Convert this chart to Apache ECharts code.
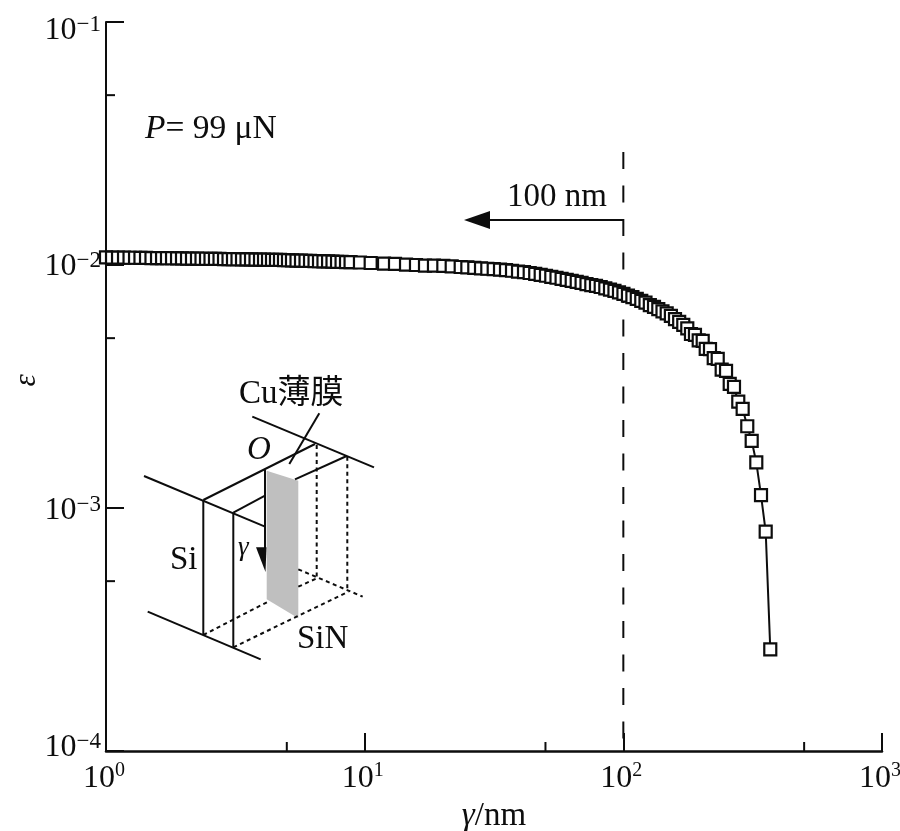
<!DOCTYPE html>
<html><head><meta charset="utf-8">
<style>html,body{margin:0;padding:0;background:#fff}#c{width:900px;height:831px}</style>
<script src="https://cdn.jsdelivr.net/npm/echarts@6/dist/echarts.min.js"></script>
</head><body><div id="c"></div>
<script>
const gamma = [
1.00,1.055,1.113,1.174,1.233,1.295,1.359,1.428,1.499,1.575,1.647,1.721,1.800,1.882,1.967,2.057,2.150,2.248,2.340,2.436,2.535,2.638,2.747,2.859,2.976,3.097,3.224,3.356,3.493,3.636,3.784,3.939,4.082,4.230,4.383,4.541,4.706,
4.876,5.053,5.236,5.451,5.674,5.906,6.148,6.40,6.66,6.93,7.22,7.51,7.82,8.14,8.47,8.82,
9.59,10.55,11.88,13.10,14.45,15.79,17.11,18.53,20.14,21.70,
23.51,24.94,26.53,28.17,29.79,31.54,33.36,
35.19,37.12,39.16,41.30,43.45,45.64,47.92,50.23,52.66,55.16,57.72,60.41,63.15,66.03,68.96,72.04,75.19,78.40,81.75,85.17,88.8,92.4,96.2,100.1,104.2,108.4,112.7,117.3,121.8,126.6,131.4,136.5,141.7,147.1,152.7,
158.4,164.4,170.5,176.7,182.6,189.2,195.6,202.7,208.2,216.3,223.6,231.7,240.0,249.5,257.8,267.8,278.2,289.3,301.4,313.5,326.6,340.6,355.1,369.9];
const epsilon = [
.01074,.01073,.01073,.01072,.01071,.01071,.01070,.01069,.01068,.01068,.01067,.01066,.01066,.01065,.01064,.01063,.01063,.01062,.01061,.01061,.01060,.01059,.01059,.01058,.01057,.01056,.01056,.01055,.01054,.01054,.01053,.01052,.01052,.01051,.01050,.01049,.01049,
.01047,.01046,.01045,.01043,.01042,.01041,.01039,.01038,.01036,.01035,.01034,.01032,.01031,.01030,.01028,.01027,
.01024,.01019,.01014,.01010,.01004,.01000,.00995,.00994,.00991,.00987,
.00981,.00977,.00973,.00969,.00965,.00962,.00958,
.00953,.00947,.00940,.00934,.00927,.00919,.00911,.00903,.00894,.00886,.00877,.00869,.00861,.00853,.00844,.00835,.00827,.00820,.00812,.00802,.00792,.00782,.00771,.00760,.00748,.00737,.00725,.00712,.00700,.00684,.00672,.00658,.00645,.00632,.00618,
.00599,.00583,.00567,.00549,.00520,.00516,.00490,.00487,.00452,.00451,.00414,.00411,.00371,.00367,.00324,.00315,.00274,.00256,.00217,.00189,.00154,.00113,.00080,.000262];
const minorXTicks = [5,50,500];
const minorYTicks = [0.05,0.005,0.0005];
const refLine = [[100,0.0292],[100,0.0001]];
const xExponents = {1:'0',10:'1',100:'2',1000:'3'};
const yExponents = {0.1:'1',0.01:'2',0.001:'3',0.0001:'4'};

const INK = '#0d0d0d', SERIF = '"Liberation Serif","Noto Sans CJK SC",serif';
const base = {fontFamily:SERIF,fontSize:32,color:INK,lineHeight:34,verticalAlign:'bottom'};
const sup = {fontFamily:SERIF,fontSize:23,color:INK,lineHeight:22,verticalAlign:'top'};
const xSup = {fontFamily:SERIF,fontSize:20,color:INK,lineHeight:22,verticalAlign:'top',padding:[0,4,0,0]};
// vertical nudge of each y label, built as an empty line before or after the text
const yShift = {'1':16,'2':2,'3':4,'4':-8};
const yRich = {b:base,s:sup};
Object.keys(yShift).forEach(k=>{yRich['g'+k]={fontSize:1,lineHeight:Math.abs(yShift[k])};});
function yLabel(k){
  const t='{b|10}{s|−'+k+'}', g='{g'+k+'| }';
  return yShift[k]>=0 ? g+'\n'+t : t+'\n'+g;
}
function seg(p,solid){return {type:'polyline',silent:true,z:20,shape:{points:p},
  style:{stroke:INK,lineWidth:2,fill:null,lineDash:solid?null:[4,3.5]}};}
function txt(x,y,text,size,extra){return {type:'text',silent:true,z:21,x:x,y:y,
  style:Object.assign({text:text,fontFamily:SERIF,fontSize:size,fill:INK,verticalAlign:'middle'},extra||{})};}
const tickStyle={color:INK,width:2};
const tickSeries=(data,fn)=>({type:'custom',data:data,clip:false,silent:true,z:6,renderItem:(p,api)=>{
  const c=api.coord([api.value(0),api.value(1)]);
  return {type:'line',shape:fn(c),style:{stroke:INK,lineWidth:2}};}});

const chart = echarts.init(document.getElementById('c'),null,{renderer:'canvas'});
chart.setOption({
  animation:false,backgroundColor:'#fff',
  grid:{left:106,top:22,width:776,height:729,containLabel:false,outerBoundsMode:'none'},
  xAxis:{type:'log',logBase:10,min:1,max:1000,z:5,
    axisLine:{show:true,lineStyle:{color:INK,width:2.5},onZero:false},
    axisTick:{show:true,inside:true,length:18,lineStyle:tickStyle,alignWithLabel:true},
    minorTick:{show:false},splitLine:{show:false},
    axisLabel:{show:true,margin:10,hideOverlap:false,showMinLabel:true,showMaxLabel:true,
      formatter:v=>'{b|10}{s|'+xExponents[v]+'}',rich:{b:base,s:xSup}},
    name:'{i|γ}{r|/nm}',nameLocation:'middle',nameGap:49,nameMoveOverlap:false,
    nameTextStyle:{rich:{i:{fontFamily:SERIF,fontStyle:'italic',fontSize:33,color:INK},r:{fontFamily:SERIF,fontSize:33,color:INK}}}},
  yAxis:{type:'log',logBase:10,min:0.0001,max:0.1,z:5,
    axisLine:{show:true,lineStyle:tickStyle,onZero:false},
    axisTick:{show:true,inside:true,length:18,lineStyle:tickStyle},
    minorTick:{show:false},splitLine:{show:false},
    axisLabel:{show:true,margin:5,hideOverlap:false,showMinLabel:true,showMaxLabel:true,
      formatter:v=>yLabel(yExponents[+v.toPrecision(1)]),rich:yRich},
    name:'ε',nameLocation:'middle',nameGap:64,nameRotate:90,nameMoveOverlap:false,
    nameTextStyle:{fontFamily:SERIF,fontStyle:'italic',fontSize:31,color:INK,padding:[0,0,0,12]}},
  series:[
    {type:'line',data:refLine,symbol:'none',z:1,clip:false,silent:true,
      lineStyle:{color:INK,width:2,type:[17,16.5]}},
    {type:'line',data:gamma.map((g,i)=>[g,epsilon[i]]),clip:false,silent:true,z:3,
      symbol:'rect',symbolSize:12,showSymbol:true,showAllSymbol:true,
      lineStyle:{color:INK,width:2},itemStyle:{color:'#fff',borderColor:INK,borderWidth:2.2}},
    tickSeries(minorXTicks.map(v=>[v,0.0001]),c=>({x1:c[0],y1:c[1],x2:c[0],y2:c[1]-9})),
    tickSeries(minorYTicks.map(v=>[1,v]),c=>({x1:c[0],y1:c[1],x2:c[0]+9,y2:c[1]}))
  ],
  graphic:{elements:[
    txt(145,129,'',33,{text:'{i|P}{r|= 99 μN}',rich:{i:{fontFamily:SERIF,fontStyle:'italic',fontSize:33.5,fill:INK},r:{fontFamily:SERIF,fontSize:33.5,fill:INK}}}),
    txt(507,197,'100 nm',33),
    seg([[623,220],[490,220]],true),
    {type:'polygon',silent:true,z:20,shape:{points:[[464,220],[490,211],[490,229]]},style:{fill:INK}},
    {type:'polygon',silent:true,z:19,shape:{points:[[266.7,470.7],[298.3,480.7],[298.3,618.3],[266.7,599.3]]},style:{fill:'#bfbfbf'}},
    seg([[252.3,416.7],[374,467.3]],true),
    seg([[144,476],[265,526.7]],true),
    seg([[203.3,500],[315,444]],true),
    seg([[233.3,512.7],[265,495.7]],true),
    seg([[295,479.3],[346.7,456]],true),
    seg([[265,470],[265,548]],true),
    {type:'polygon',silent:true,z:20,shape:{points:[[256,547.3],[266.5,547.3],[265.5,572]]},style:{fill:INK}},
    seg([[203.3,500],[203.3,635]],true),
    seg([[233.3,512.7],[233.3,647.3]],true),
    seg([[147.7,611.7],[260.7,659.3]],true),
    seg([[319.3,413.3],[289.3,464]],true),
    seg([[316.7,445],[316.7,578.3]]),
    seg([[347.3,456.7],[347.3,591.7]]),
    seg([[203.3,635],[268,601.7]]),
    seg([[233.3,647.3],[348.3,591.7]]),
    seg([[298.3,569.3],[362.7,596.7]]),
    seg([[298.3,586.7],[316.7,578.3]]),
    txt(239,394,'Cu薄膜',33),
    txt(247,450,'O',33,{fontStyle:'italic'}),
    txt(170,560,'Si',33),
    txt(297,639,'SiN',33),
    txt(238,548,'γ',27,{fontStyle:'italic'})
  ]}
});
</script></body></html>
